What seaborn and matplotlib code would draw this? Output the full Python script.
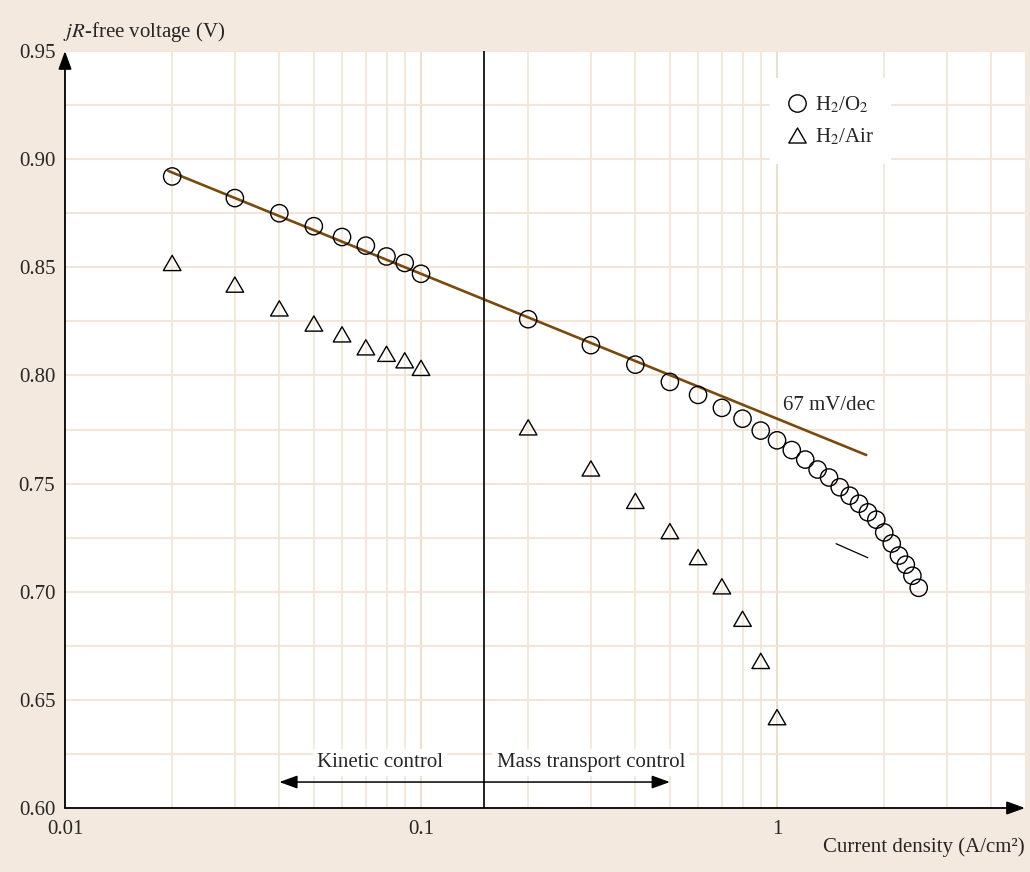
import numpy as np
import pandas as pd
import matplotlib
matplotlib.use("Agg")
import matplotlib.pyplot as plt
from matplotlib.path import Path
from matplotlib.lines import Line2D
from matplotlib.ticker import FixedLocator, NullFormatter, FixedFormatter
import seaborn as sns

# Polarisation data: current density (A/cm2) and jR-free cell voltage (V)
o2_current = [0.02, 0.03, 0.04, 0.05, 0.06, 0.07, 0.08, 0.09, 0.10,
              0.2, 0.3, 0.4, 0.5, 0.6, 0.7, 0.8, 0.9, 1.0,
              1.1, 1.2, 1.3, 1.4, 1.5, 1.6, 1.7, 1.8, 1.9, 2.0,
              2.1, 2.2, 2.3, 2.4, 2.5]
o2_voltage = [0.892, 0.882, 0.875, 0.869, 0.864, 0.860, 0.855, 0.852, 0.847,
              0.826, 0.814, 0.805, 0.797, 0.791, 0.785, 0.780, 0.7745, 0.770,
              0.7655, 0.7611, 0.7565, 0.7528, 0.7483, 0.7444, 0.7407, 0.7367, 0.7333, 0.7274,
              0.7223, 0.7167, 0.7125, 0.7074, 0.7018]

air_current = [0.02, 0.03, 0.04, 0.05, 0.06, 0.07, 0.08, 0.09, 0.10,
               0.2, 0.3, 0.4, 0.5, 0.6, 0.7, 0.8, 0.9, 1.0]
air_voltage = [0.852, 0.842, 0.831, 0.824, 0.819, 0.813, 0.810, 0.807, 0.8035,
               0.776, 0.757, 0.742, 0.728, 0.716, 0.7025, 0.6875, 0.668, 0.642]

# Tafel line: 67 mV/dec through the 0.1 A/cm2 point
tafel_slope = 0.067
tafel_ref_current = 0.1
tafel_ref_voltage = 0.847
tafel_current = np.array([0.0195, 1.78])
tafel_voltage = tafel_ref_voltage - tafel_slope * np.log10(tafel_current / tafel_ref_current)

# short guide segment near the high-current end
guide_current = [1.465, 1.80]
guide_voltage = [0.7222, 0.7157]

# boundary between kinetic and mass-transport regimes
regime_boundary = 0.15
kinetic_arrow_end = 0.04
transport_arrow_end = 0.5

y_ticks = [0.60, 0.65, 0.70, 0.75, 0.80, 0.85, 0.90, 0.95]
y_tick_labels = ["0.60", "0.65", "0.70", "0.75", "0.80", "0.85", "0.90", "0.95"]
x_ticks = [0.01, 0.1, 1]
x_tick_labels = ["0.01", "0.1", "1"]

sns.set_theme(style="white")
plt.rcParams["font.family"] = ["Liberation Serif", "DejaVu Serif"]
plt.rcParams["mathtext.fontset"] = "stix"
FS = 15

bg = "#f3e9df"
grid_minor = "#f3e6d8"
grid_major = "#ecdac6"
brown = "#7a4a0c"

fig = plt.figure(figsize=(10.30, 8.72), dpi=100, facecolor=bg)
ax = fig.add_axes([0.0631, 0.0734, 0.9320, 0.8681])
ax.set_facecolor("white")
ax.set_xscale("log")
ax.set_xlim(0.01, 4.97)
ax.set_ylim(0.60, 0.95)

# grid: every 0.025 V and at each 1..9 step of each decade
minor_x = [m * 10.0 ** e for e in (-2, -1, 0) for m in range(2, 10) if m * 10.0 ** e < 4.97]
for xv in minor_x:
    ax.axvline(xv, color=grid_minor, lw=1.3, zorder=0)
for xv in (0.1, 1.0):
    ax.axvline(xv, color=grid_major, lw=1.3, zorder=0)
for yv in np.arange(0.625, 0.951, 0.025):
    ax.axhline(yv, color=grid_minor, lw=1.5, zorder=0)

ax.xaxis.set_major_locator(FixedLocator(x_ticks))
ax.xaxis.set_major_formatter(FixedFormatter(x_tick_labels))
ax.xaxis.set_minor_formatter(NullFormatter())
ax.set_yticks(y_ticks)
ax.set_yticklabels(y_tick_labels)
ax.tick_params(axis="both", which="both", length=0, labelsize=FS)
ax.tick_params(axis="y", pad=7)
ax.tick_params(axis="x", pad=9)
for s in ax.spines.values():
    s.set_visible(False)

tri = Path([(-1.0, -0.866), (1.0, -0.866), (0.0, 0.866), (-1.0, -0.866)],
           [Path.MOVETO, Path.LINETO, Path.LINETO, Path.CLOSEPOLY])

o2_df = pd.DataFrame({"current": o2_current, "voltage": o2_voltage})
air_df = pd.DataFrame({"current": air_current, "voltage": air_voltage})
tafel_df = pd.DataFrame({"current": tafel_current, "voltage": tafel_voltage})

sns.lineplot(data=tafel_df, x="current", y="voltage", ax=ax, color=brown, lw=1.9, zorder=3)
sns.lineplot(x=guide_current, y=guide_voltage, ax=ax, color="black", lw=0.9, zorder=3)
sns.scatterplot(data=o2_df, x="current", y="voltage", ax=ax, marker="o", s=155,
                facecolor="none", edgecolor="black", linewidth=1.0, zorder=4)
sns.scatterplot(data=air_df, x="current", y="voltage", ax=ax, marker=tri, s=160,
                facecolor="none", edgecolor="black", linewidth=1.0, zorder=4)

ax.axvline(regime_boundary, color="#222222", lw=1.4, zorder=5)

ax.set_xlabel("")
ax.set_ylabel("")

# axis arrows
arrow_kw = dict(arrowstyle="-|>,head_length=0.55,head_width=0.2", mutation_scale=20,
                color="black", lw=1.3, shrinkA=0, shrinkB=0)
ax.annotate("", xy=(0, 1), xytext=(0, 0), xycoords="axes fraction",
            textcoords="axes fraction", arrowprops=arrow_kw, annotation_clip=False, zorder=6)
ax.annotate("", xy=(1, 0), xytext=(0, 0), xycoords="axes fraction",
            textcoords="axes fraction", arrowprops=arrow_kw, annotation_clip=False, zorder=6)

# regime arrows
regime_y = 0.612
ax.annotate("", xy=(kinetic_arrow_end, regime_y), xytext=(regime_boundary, regime_y),
            arrowprops=dict(arrow_kw, lw=1.1), zorder=6)
ax.annotate("", xy=(transport_arrow_end, regime_y), xytext=(regime_boundary, regime_y),
            arrowprops=dict(arrow_kw, lw=1.1), zorder=6)
box = dict(facecolor="white", edgecolor="none", pad=3)
ax.text(0.1153, 0.621, "Kinetic control", ha="right", va="center", fontsize=FS,
        bbox=box, zorder=5)
ax.text(0.163, 0.621, "Mass transport control", ha="left", va="center", fontsize=FS,
        bbox=box, zorder=5)

ax.text(1.04, 0.786, "67 mV/dec", ha="left", va="center", fontsize=FS, zorder=5)

# axis titles
fig.text(63 / 1030, 1 - 32 / 872, r"$jR$-free voltage (V)", ha="left", va="center", fontsize=FS)
fig.text(1025 / 1030, 1 - 847 / 872, "Current density (A/cm²)", ha="right", va="center", fontsize=FS)

# legend
handles = [
    Line2D([], [], ls="none", marker="o", ms=12.5, mfc="none", mec="black", mew=1.0),
    Line2D([], [], ls="none", marker=tri, ms=12.5, mfc="none", mec="black", mew=1.0),
]
leg = ax.legend(handles, [r"H$_2$/O$_2$", r"H$_2$/Air"], loc="upper left",
                bbox_to_anchor=(0.734, 0.964), borderaxespad=0, frameon=True,
                fontsize=FS, handlelength=1.0, handletextpad=0.4, borderpad=0.8,
                labelspacing=0.55, fancybox=False)
leg.get_frame().set_facecolor("white")
leg.get_frame().set_edgecolor("none")
leg.get_frame().set_alpha(1.0)
leg.set_zorder(7)

fig.savefig("out.png", dpi=100, facecolor=bg)
